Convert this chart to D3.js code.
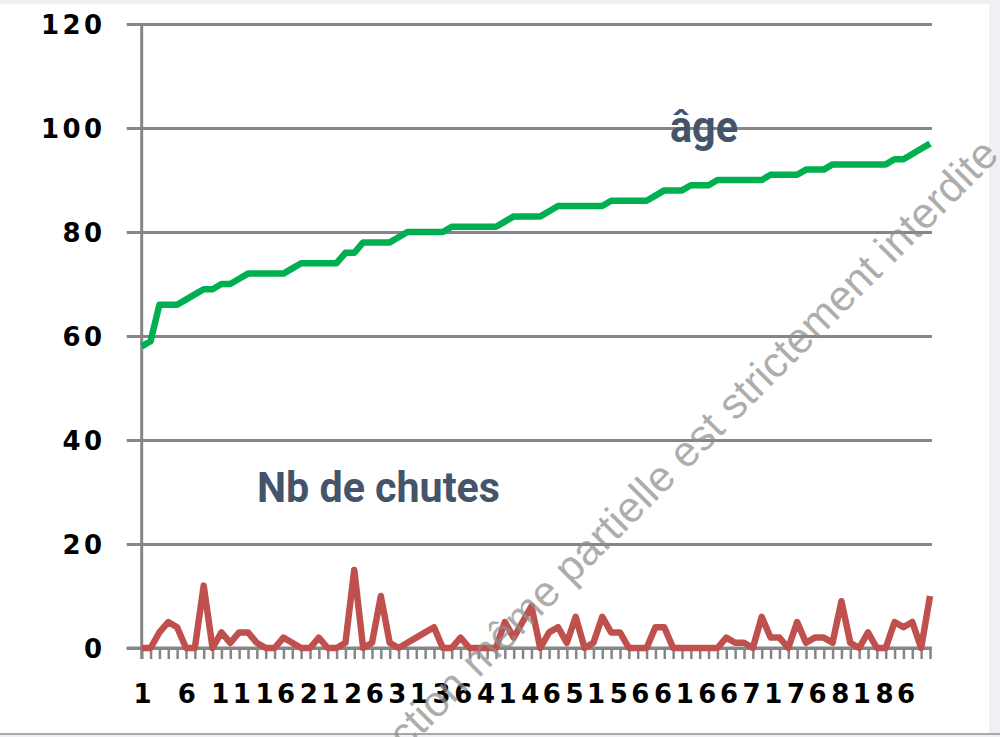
<!DOCTYPE html>
<html>
<head>
<meta charset="utf-8">
<script src="https://cdn.jsdelivr.net/npm/d3@7"></script>
<style>
  body { margin: 0; background: #efeff4; }
  svg { display: block; }
</style>
</head>
<body>
<svg width="1000" height="737"></svg>
<script>
// patient numbers 1..90 on the x axis
const patients = d3.range(1, 91);

// age of each patient (sorted)
const ages = [58, 59, 66, 66, 66, 67, 68, 69, 69, 70,
              70, 71, 72, 72, 72, 72, 72, 73, 74, 74,
              74, 74, 74, 76, 76, 78, 78, 78, 78, 79,
              80, 80, 80, 80, 80, 81, 81, 81, 81, 81,
              81, 82, 83, 83, 83, 83, 84, 85, 85, 85,
              85, 85, 85, 86, 86, 86, 86, 86, 87, 88,
              88, 88, 89, 89, 89, 90, 90, 90, 90, 90,
              90, 91, 91, 91, 91, 92, 92, 92, 93, 93,
              93, 93, 93, 93, 93, 94, 94, 95, 96, 97];

// number of falls per patient
const falls = [0, 0, 3, 5, 4, 0, 0, 12, 0, 3,
               1, 3, 3, 1, 0, 0, 2, 1, 0, 0,
               2, 0, 0, 1, 15, 0, 1, 10, 1, 0,
               1, 2, 3, 4, 0, 0, 2, 0, 0, 0,
               0, 5, 2, 5, 8, 0, 3, 4, 1, 6,
               0, 1, 6, 3, 3, 0, 0, 0, 4, 4,
               0, 0, 0, 0, 0, 0, 2, 1, 1, 0,
               6, 2, 2, 0, 5, 1, 2, 2, 1, 9,
               1, 0, 3, 0, 0, 5, 4, 5, 0, 10];

const yTicks = [0, 20, 40, 60, 80, 100, 120];
const xTickLabels = ['1', '6', '11', '16', '21', '26', '31', '36', '41', '46',
                     '51', '56', '61', '66', '71', '76', '81', '86'];

const svg = d3.select('svg');

// frame
svg.append('rect').attr('x', 0).attr('y', 4).attr('width', 989).attr('height', 729)
    .attr('fill', '#ffffff');
svg.append('line').attr('x1', 0).attr('x2', 1000).attr('y1', 734).attr('y2', 734)
    .attr('stroke', '#a9a9ad').attr('stroke-width', 2);

const left = 141.7, right = 930;
const x = d3.scalePoint().domain(patients).range([left, right]);
const y = d3.scaleLinear().domain([0, 120]).range([648, 24]);

const gridColor = '#868686';
const labelFont = '"DejaVu Sans", Verdana, sans-serif';

// y axis with gridlines
const yAxis = svg.append('g')
    .attr('transform', 'translate(' + left + ',0)')
    .call(d3.axisLeft(y).tickValues(yTicks).tickSizeInner(-(right + 2 - left)).tickSizeOuter(0));
yAxis.select('.domain').remove();
yAxis.selectAll('.tick line')
    .attr('x1', -15)
    .attr('stroke', gridColor)
    .attr('stroke-width', 3);
yAxis.selectAll('.tick text')
    .attr('x', -36)
    .attr('dy', '0.36em')
    .attr('fill', '#000')
    .style('font-family', labelFont)
    .style('font-weight', 'bold')
    .style('font-size', '26px')
    .style('letter-spacing', '3.5px');

// x axis
const xAxis = svg.append('g')
    .attr('transform', 'translate(0,648)')
    .call(d3.axisBottom(x).tickSize(11).tickSizeOuter(0)
        .tickFormat(d => xTickLabels.includes(String(d)) ? d : ''));
xAxis.select('.domain').remove();
xAxis.selectAll('.tick line')
    .attr('stroke', gridColor)
    .attr('stroke-width', 2.5);
xAxis.selectAll('.tick text')
    .attr('y', 55)
    .attr('dy', 0)
    .attr('dx', 2)
    .attr('fill', '#000')
    .style('font-family', labelFont)
    .style('font-weight', 'bold')
    .style('font-size', '26px')
    .style('letter-spacing', '3.5px');

// axis lines
svg.append('line')
    .attr('x1', left).attr('x2', left)
    .attr('y1', y(120) - 1).attr('y2', 659)
    .attr('stroke', gridColor).attr('stroke-width', 3);
svg.append('line')
    .attr('x1', left - 15).attr('x2', right + 2)
    .attr('y1', y(0)).attr('y2', y(0))
    .attr('stroke', gridColor).attr('stroke-width', 3);

// series
const line = d3.line()
    .x((d, i) => x(patients[i]))
    .y(d => y(d));

svg.append('path')
    .datum(ages)
    .attr('d', line)
    .attr('fill', 'none')
    .attr('stroke', '#00b050')
    .attr('stroke-width', 6.5)
    .attr('stroke-linejoin', 'round');

svg.append('path')
    .datum(falls)
    .attr('d', line)
    .attr('fill', 'none')
    .attr('stroke', '#c0504d')
    .attr('stroke-width', 6.5)
    .attr('stroke-linejoin', 'round');

// series labels
svg.append('text')
    .attr('x', 670).attr('y', 142)
    .attr('textLength', 68).attr('lengthAdjust', 'spacingAndGlyphs')
    .attr('fill', '#44546a')
    .style('font-family', 'Roboto, sans-serif')
    .style('font-weight', 'bold')
    .style('font-size', '44px')
    .text('âge');

svg.append('text')
    .attr('x', 257).attr('y', 502)
    .attr('textLength', 243).attr('lengthAdjust', 'spacingAndGlyphs')
    .attr('fill', '#44546a')
    .style('font-family', 'Roboto, sans-serif')
    .style('font-weight', 'bold')
    .style('font-size', '42px')
    .text('Nb de chutes');

// watermark
svg.append('text')
    .attr('transform', 'translate(990,146) rotate(-45)')
    .attr('text-anchor', 'end')
    .attr('dominant-baseline', 'central')
    .attr('fill', '#8e8e8e')
    .attr('fill-opacity', 0.72)
    .style('font-family', '"Liberation Sans", Arial, sans-serif')
    .style('font-size', '43px')
    .text('Reproduction même partielle est strictement interdite');
</script>
</body>
</html>
